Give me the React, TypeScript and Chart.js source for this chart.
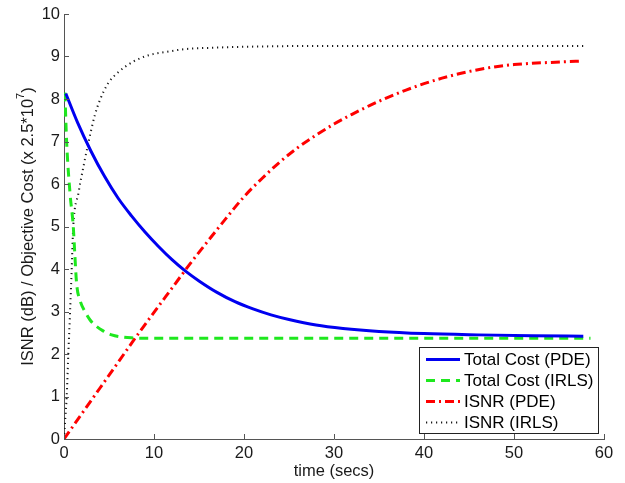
import React, { useEffect, useRef } from "react";
import { Chart, registerables } from "chart.js";

Chart.register(...registerables);

// ---- data ----
const xTickValues = [0, 10, 20, 30, 40, 50, 60];
const yTickValues = [0, 1, 2, 3, 4, 5, 6, 7, 8, 9, 10];

const legendLabels = ["Total Cost (PDE)", "Total Cost (IRLS)", "ISNR (PDE)", "ISNR (IRLS)"];

const costPdeX = [0.2, 1.5, 3, 4.5, 6, 7.5, 9, 10.5, 12, 13.5, 15, 17, 19, 21, 23, 25, 28, 31, 35, 40, 46, 52, 57.7];
const costPdeY = [8.13, 7.45, 6.77, 6.18, 5.67, 5.25, 4.87, 4.53, 4.22, 3.95, 3.72, 3.45, 3.23, 3.06, 2.92, 2.81, 2.68, 2.6, 2.53, 2.48, 2.45, 2.43, 2.42];

const costIrlsX = [0.1, 0.3, 0.67, 1.03, 1.2, 1.4, 1.8, 2.33, 2.9, 3.44, 4.3, 5.3, 6.4, 7.5, 10, 20, 40, 58.5];
const costIrlsY = [8.15, 6.96, 5.78, 5.0, 4.35, 3.66, 3.25, 3.0, 2.8, 2.68, 2.55, 2.45, 2.4, 2.38, 2.37, 2.37, 2.37, 2.37];

const isnrPdeX = [0, 2, 4, 6, 8, 10, 12, 14, 16, 18, 20, 22, 24, 26, 28, 30, 32, 34, 36, 38, 40, 42, 44, 46, 48, 50, 52, 54, 56, 57.3];
const isnrPdeY = [0, 0.6, 1.2, 1.8, 2.4, 2.98, 3.55, 4.12, 4.66, 5.19, 5.7, 6.13, 6.52, 6.86, 7.15, 7.41, 7.64, 7.85, 8.04, 8.21, 8.36, 8.49, 8.6, 8.69, 8.76, 8.81, 8.84, 8.86, 8.88, 8.89];

const isnrIrlsX = [0, 0.15, 0.3, 0.48, 0.67, 0.85, 1.03, 1.6, 2.2, 2.7, 3.4, 4.0, 4.9, 5.86, 7.7, 9.56, 11.4, 13.3, 17, 20.3, 30, 40, 58.1];
const isnrIrlsY = [0, 0.5, 1.0, 2.0, 2.96, 3.98, 5.0, 5.78, 6.45, 6.96, 7.6, 7.98, 8.37, 8.6, 8.88, 9.04, 9.11, 9.17, 9.21, 9.23, 9.25, 9.25, 9.25];

// ---- styles ----
const FONT = "'Liberation Sans', Arial, Helvetica, sans-serif";
const AXIS_COLOR = "#555555";
const TEXT_COLOR = "#1a1a1a";

const seriesStyles = [
  { color: "#0000f0", width: 3, dash: [] as number[] },
  { color: "#1ee81e", width: 3, dash: [9, 6] },
  { color: "#ff0000", width: 3, dash: [9, 4, 2, 4] },
  { color: "#1a1a1a", width: 2, dash: [1.2, 3.8] },
];

const toPoints = (xs: number[], ys: number[]) => xs.map((x, i) => ({ x, y: ys[i] }));

const overlayPlugin = {
  id: "overlay",
  afterDraw(chart: any) {
    const { ctx, chartArea: a, scales } = chart;
    const xs = scales.x;
    const ys = scales.y;
    ctx.save();
    // inward ticks
    ctx.strokeStyle = AXIS_COLOR;
    ctx.lineWidth = 1;
    ctx.setLineDash([]);
    ctx.beginPath();
    xs.ticks.forEach((t: any) => {
      const px = Math.round(xs.getPixelForValue(t.value)) + 0.5;
      ctx.moveTo(px, a.bottom);
      ctx.lineTo(px, a.bottom - 5);
    });
    ys.ticks.forEach((t: any) => {
      const py = Math.round(ys.getPixelForValue(t.value)) + 0.5;
      ctx.moveTo(a.left, py);
      ctx.lineTo(a.left + 5, py);
    });
    ctx.stroke();

    // y-axis title with superscript
    ctx.save();
    ctx.translate(28, (a.top + a.bottom) / 2);
    ctx.rotate(-Math.PI / 2);
    ctx.fillStyle = TEXT_COLOR;
    ctx.textBaseline = "middle";
    ctx.textAlign = "left";
    const mainFont = `16.5px ${FONT}`;
    const supFont = `11px ${FONT}`;
    const t1 = "ISNR (dB) / Objective Cost (x 2.5*10";
    const t2 = "7";
    const t3 = ")";
    ctx.font = mainFont;
    const w1 = ctx.measureText(t1).width;
    const w3 = ctx.measureText(t3).width;
    ctx.font = supFont;
    const w2 = ctx.measureText(t2).width;
    let sx = -(w1 + w2 + w3) / 2;
    ctx.font = mainFont;
    ctx.fillText(t1, sx, 0);
    sx += w1;
    ctx.font = supFont;
    ctx.fillText(t2, sx, -7);
    sx += w2;
    ctx.font = mainFont;
    ctx.fillText(t3, sx, 0);
    ctx.restore();

    // legend
    const boxW = 179;
    const boxH = 86;
    const right = a.right - 6;
    const bottom = a.bottom - 6;
    const left = right - boxW;
    const top = bottom - boxH;
    ctx.fillStyle = "#ffffff";
    ctx.fillRect(left, top, boxW, boxH);
    ctx.strokeStyle = "#222222";
    ctx.lineWidth = 1;
    ctx.strokeRect(Math.round(left) + 0.5, Math.round(top) + 0.5, boxW, boxH);
    ctx.font = `17px ${FONT}`;
    ctx.textBaseline = "middle";
    ctx.textAlign = "left";
    legendLabels.forEach((label, i) => {
      const y = top + 12.5 + i * 21;
      const st = seriesStyles[i];
      ctx.strokeStyle = st.color;
      ctx.lineWidth = st.width;
      ctx.setLineDash(st.dash);
      ctx.beginPath();
      ctx.moveTo(left + 7, y);
      ctx.lineTo(left + 41, y);
      ctx.stroke();
      ctx.setLineDash([]);
      ctx.fillStyle = "#000000";
      ctx.fillText(label, left + 45, y + 1);
    });
    ctx.restore();
  },
};

export default function App() {
  const canvasRef = useRef<HTMLCanvasElement | null>(null);

  useEffect(() => {
    const canvas = canvasRef.current;
    if (!canvas) return;
    const seriesData = [
      toPoints(costPdeX, costPdeY),
      toPoints(costIrlsX, costIrlsY),
      toPoints(isnrPdeX, isnrPdeY),
      toPoints(isnrIrlsX, isnrIrlsY),
    ];
    const chart = new Chart(canvas, {
      type: "line",
      data: {
        datasets: seriesData.map((d, i) => ({
          label: legendLabels[i],
          data: d,
          borderColor: seriesStyles[i].color,
          borderWidth: seriesStyles[i].width,
          borderDash: seriesStyles[i].dash,
          pointRadius: 0,
          fill: false,
          cubicInterpolationMode: "monotone" as const,
        })),
      },
      options: {
        responsive: false,
        animation: false,
        events: [],
        layout: { padding: { top: 14, right: 21, left: 0, bottom: 0 } },
        plugins: {
          legend: { display: false },
          tooltip: { enabled: false },
        },
        scales: {
          x: {
            type: "linear",
            min: 0,
            max: 60,
            afterBuildTicks: (scale: any) => {
              scale.ticks = xTickValues.map((v) => ({ value: v }));
            },
            afterFit: (scale: any) => {
              scale.height = 44;
              scale.paddingLeft = 0;
              scale.paddingRight = 0;
            },
            grid: { display: false, drawTicks: false },
            border: { display: true, color: AXIS_COLOR, width: 1 },
            ticks: {
              color: TEXT_COLOR,
              font: { family: FONT, size: 16.5 },
              padding: 5,
              maxRotation: 0,
              autoSkip: false,
            },
            title: {
              display: true,
              text: "time (secs)",
              color: TEXT_COLOR,
              font: { family: FONT, size: 16.5 },
              padding: { top: 0, bottom: 2 },
            },
          },
          y: {
            type: "linear",
            min: 0,
            max: 10,
            afterBuildTicks: (scale: any) => {
              scale.ticks = yTickValues.map((v) => ({ value: v }));
            },
            afterFit: (scale: any) => {
              scale.width = 64;
              scale.paddingTop = 0;
              scale.paddingBottom = 0;
            },
            grid: { display: false, drawTicks: false },
            border: { display: true, color: AXIS_COLOR, width: 1 },
            ticks: {
              color: TEXT_COLOR,
              font: { family: FONT, size: 16.5 },
              padding: 4,
              autoSkip: false,
            },
            title: { display: false },
          },
        },
      },
      plugins: [overlayPlugin],
    });
    return () => chart.destroy();
  }, []);

  return (
    <div style={{ position: "absolute", left: 0, top: 0, width: 625, height: 483, background: "#ffffff" }}>
      <canvas ref={canvasRef} width={625} height={483} style={{ display: "block" }} />
    </div>
  );
}
